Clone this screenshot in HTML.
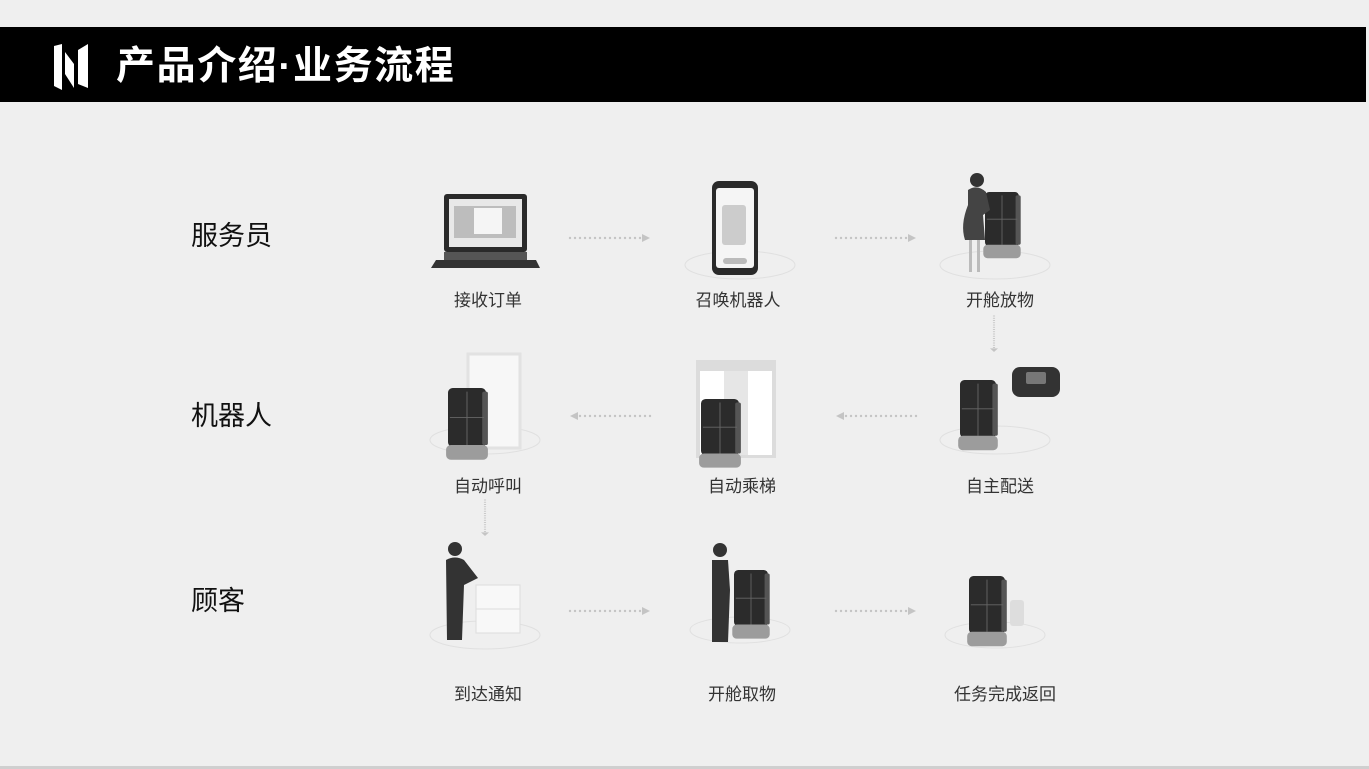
<!DOCTYPE html>
<html><head><meta charset="utf-8"><style>
html,body{margin:0;padding:0;}
body{width:1369px;height:769px;background:#efefef;position:relative;overflow:hidden;font-family:"Liberation Sans","Noto Sans CJK SC",sans-serif;}
.hdr{position:absolute;left:0;top:27px;width:1366px;height:75px;background:#000;}
.ttl{position:absolute;left:116px;top:42px;color:#fff;font-size:39px;font-weight:bold;letter-spacing:1.6px;line-height:50px;}
.rl{position:absolute;left:191px;font-size:27px;color:#111;line-height:34px;}
.lb{position:absolute;font-size:17px;color:#333;width:160px;text-align:center;line-height:22px;}
.btm{position:absolute;left:0;top:766px;width:1369px;height:3px;background:#cfcfcf;}
</style></head><body>
<div class="hdr"></div>
<svg style="position:absolute;left:52px;top:44px" width="40" height="46" viewBox="0 0 40 46">
<polygon points="2,2 10,0 10,46 2,42" fill="#fff"/>
<polygon points="13,8 22,20 22,44 13,30" fill="#fff"/>
<polygon points="26,6 36,0 36,44 26,40" fill="#fff"/>
</svg>
<div class="ttl">产品介绍·业务流程</div>
<div class="rl" style="top:219px">服务员</div>
<div class="rl" style="top:399px">机器人</div>
<div class="rl" style="top:584px">顾客</div>

<div class="lb" style="left:408px;top:290px">接收订单</div>
<div class="lb" style="left:658px;top:290px">召唤机器人</div>
<div class="lb" style="left:920px;top:290px">开舱放物</div>
<div class="lb" style="left:408px;top:476px">自动呼叫</div>
<div class="lb" style="left:662px;top:476px">自动乘梯</div>
<div class="lb" style="left:920px;top:476px">自主配送</div>
<div class="lb" style="left:408px;top:684px">到达通知</div>
<div class="lb" style="left:662px;top:684px">开舱取物</div>
<div class="lb" style="left:925px;top:684px">任务完成返回</div>

<svg style="position:absolute;left:0;top:0" width="1369" height="769">
<defs>
<g id="rob">
<rect x="0" y="0" width="40" height="64" rx="5" fill="#2b2b2b"/>
<rect x="36" y="4" width="6" height="58" rx="2" fill="#555"/>
<line x1="20" y1="4" x2="20" y2="62" stroke="#666"/>
<line x1="2" y1="32" x2="38" y2="32" stroke="#666"/>
<rect x="-2" y="62" width="44" height="16" rx="5" fill="#9c9c9c"/>
</g>
<g id="dotsR" fill="#c4c4c4">
<circle cx="0" cy="0" r="1.2"/><circle cx="5" cy="0" r="1.2"/><circle cx="10" cy="0" r="1.2"/><circle cx="15" cy="0" r="1.2"/><circle cx="20" cy="0" r="1.2"/><circle cx="25" cy="0" r="1.2"/><circle cx="30" cy="0" r="1.2"/><circle cx="35" cy="0" r="1.2"/><circle cx="40" cy="0" r="1.2"/><circle cx="45" cy="0" r="1.2"/><circle cx="50" cy="0" r="1.2"/><circle cx="55" cy="0" r="1.2"/><circle cx="60" cy="0" r="1.2"/><circle cx="65" cy="0" r="1.2"/><circle cx="70" cy="0" r="1.2"/>
<polygon points="72,-4 80,0 72,4"/>
</g>
</defs>
<use href="#dotsR" x="570" y="238"/>
<use href="#dotsR" x="836" y="238"/>
<use href="#dotsR" x="570" y="611"/>
<use href="#dotsR" x="836" y="611"/>
<use href="#dotsR" transform="translate(650,416) scale(-1,1)"/>
<use href="#dotsR" transform="translate(916,416) scale(-1,1)"/>
<use href="#dotsR" transform="translate(994,316) rotate(90) scale(0.45,1)"/>
<use href="#dotsR" transform="translate(485,500) rotate(90) scale(0.45,1)"/>

<rect x="444" y="194" width="83" height="58" rx="3" fill="#2a2a2a"/>
<rect x="449" y="199" width="73" height="48" fill="#e8e8e8"/>
<rect x="454" y="206" width="62" height="32" fill="#bdbdbd"/>
<rect x="474" y="208" width="28" height="26" fill="#f5f5f5"/>
<polygon points="436,260 536,260 540,268 431,268" fill="#333"/>
<rect x="444" y="252" width="83" height="8" fill="#555"/>
<ellipse cx="740" cy="265" rx="55" ry="14" fill="none" stroke="#e0e0e0"/>
<rect x="712" y="181" width="46" height="94" rx="7" fill="#2a2a2a"/>
<rect x="716" y="188" width="38" height="80" rx="3" fill="#f5f5f5"/>
<rect x="722" y="205" width="24" height="40" rx="3" fill="#ccc"/>
<rect x="723" y="258" width="24" height="6" rx="3" fill="#bbb"/>
<ellipse cx="995" cy="265" rx="55" ry="14" fill="none" stroke="#e0e0e0"/>
<use href="#rob" transform="translate(985,192) scale(0.85,0.85)"/>
<circle cx="977" cy="180" r="7" fill="#333"/>
<path d="M968 190 Q977 184 986 192 L990 210 L983 215 L985 240 L965 240 Q960 225 968 205Z" fill="#444"/>
<rect x="969" y="240" width="3" height="32" fill="#bbb"/><rect x="977" y="240" width="3" height="32" fill="#bbb"/>
<ellipse cx="485" cy="440" rx="55" ry="14" fill="none" stroke="#e0e0e0"/>
<rect x="468" y="354" width="52" height="94" fill="#f7f7f7" stroke="#e2e2e2" stroke-width="3"/>
<use href="#rob" transform="translate(448,388) scale(0.95,0.92)"/>
<rect x="696" y="360" width="80" height="98" fill="#dcdcdc"/>
<rect x="700" y="371" width="72" height="84" fill="#fff"/>
<rect x="724" y="371" width="24" height="84" fill="#e6e6e6"/>
<use href="#rob" transform="translate(701,399) scale(0.95,0.88)"/>
<ellipse cx="995" cy="440" rx="55" ry="14" fill="none" stroke="#e0e0e0"/>
<use href="#rob" transform="translate(960,380) scale(0.9,0.9)"/>
<rect x="1012" y="367" width="48" height="30" rx="8" fill="#333"/>
<rect x="1026" y="372" width="20" height="12" rx="2" fill="#777"/>
<ellipse cx="485" cy="635" rx="55" ry="14" fill="none" stroke="#e0e0e0"/>
<circle cx="455" cy="549" r="7" fill="#333"/>
<path d="M446 560 Q455 555 464 560 L478 578 L464 585 L462 640 L447 640 Z" fill="#333"/>
<rect x="476" y="585" width="44" height="48" fill="#f8f8f8" stroke="#ddd"/>
<line x1="476" y1="609" x2="520" y2="609" stroke="#ddd"/>
<ellipse cx="740" cy="630" rx="50" ry="13" fill="none" stroke="#e0e0e0"/>
<use href="#rob" transform="translate(734,570) scale(0.85,0.88)"/>
<circle cx="720" cy="550" r="7" fill="#333"/>
<path d="M712 560 L728 560 L730 590 L728 642 L712 642 Z" fill="#333"/>
<ellipse cx="995" cy="635" rx="50" ry="13" fill="none" stroke="#e0e0e0"/>
<use href="#rob" transform="translate(969,576) scale(0.9,0.9)"/>
<rect x="1010" y="600" width="14" height="26" rx="3" fill="#ddd"/>
</svg>
<div class="btm"></div>
</body></html>
